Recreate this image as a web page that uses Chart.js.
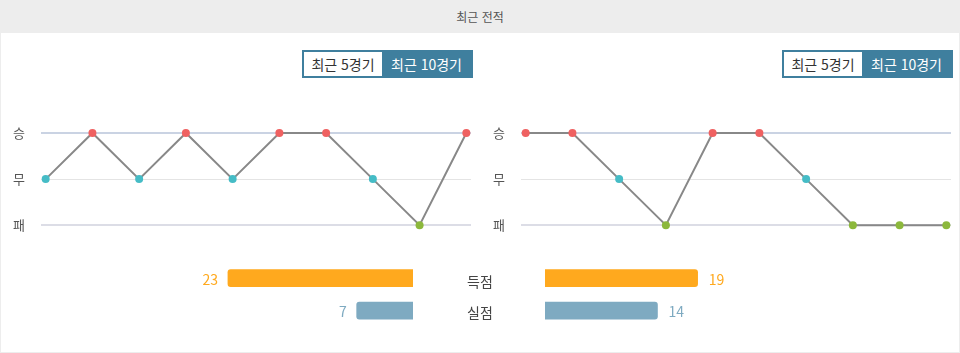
<!DOCTYPE html>
<html lang="ko">
<head>
    <meta charset="UTF-8">
    <title>최근 전적</title>
    <script src="https://cdn.jsdelivr.net/npm/chart.js"></script>
    <style>
        body { margin: 0; width: 960px; height: 353px; background: #ededed; font-family: "Noto Sans CJK KR", "Noto Sans", sans-serif; overflow: hidden; position: relative; }
        .title { position: absolute; left: 0; top: 0; width: 960px; height: 33px; line-height: 33px; text-align: center; font-size: 12px; color: #555; }
        .panel { position: absolute; left: 1px; top: 33px; width: 958px; height: 319px; background: #fff; }
        .tabs { position: absolute; top: 50px; width: 167px; height: 24px; border: 2px solid #3f7f9e; background: #3f7f9e; display: flex; font-size: 14px; }
        .tabs span { line-height: 24px; text-align: center; }
        .tabs .off { width: 78px; background: #fff; color: #333; }
        .tabs .on { flex: 1; color: #fff; }
        .stat { position: absolute; left: 440px; width: 80px; text-align: center; font-size: 14px; color: #444; line-height: 20px; }
        canvas { position: absolute; }
    </style>
</head>
<body>
    <div class="title">최근 전적</div>
    <div class="panel"></div>
    <div class="tabs" id="tabsHome" style="left: 302px;"></div>
    <div class="tabs" id="tabsAway" style="left: 782px;"></div>
    <canvas id="formHome" width="480" height="149" style="left:0; top:100px;"></canvas>
    <canvas id="formAway" width="480" height="149" style="left:480px; top:100px;"></canvas>
    <canvas id="barsHome" width="480" height="90" style="left:0; top:250px;"></canvas>
    <canvas id="barsAway" width="480" height="90" style="left:480px; top:250px;"></canvas>
    <div id="statLabels"></div>

    <script>
        // data
        const resultLabels = ['패', '무', '승'];
        const homeForm = ['무', '승', '무', '승', '무', '승', '승', '무', '패', '승'];
        const awayForm = ['승', '승', '무', '패', '승', '승', '무', '패', '패', '패'];
        const statCategories = ['득점', '실점'];
        const homeStats = [23, 7];
        const awayStats = [19, 14];
        const tabLabels = ['최근 5경기', '최근 10경기'];

        const pointColors = { '승': '#ef6161', '무': '#45bcc6', '패': '#8cb83c' };
        const barColors = ['#ffa91e', '#7eaac1'];
        const fontFamily = '"Noto Sans CJK KR", "Noto Sans", sans-serif';

        ['tabsHome', 'tabsAway'].forEach(id => {
            document.getElementById(id).innerHTML =
                '<span class="off">' + tabLabels[0] + '</span><span class="on">' + tabLabels[1] + '</span>';
        });

        const statTops = [271, 302];
        document.getElementById('statLabels').innerHTML = statCategories
            .map((c, i) => '<div class="stat" style="top:' + statTops[i] + 'px">' + c + '</div>').join('');

        function drawForm(canvasId, form) {
            const ctx = document.getElementById(canvasId).getContext('2d');
            new Chart(ctx, {
                type: 'line',
                data: {
                    datasets: [{
                        data: form.map((r, i) => ({ x: i, y: resultLabels.indexOf(r) })),
                        borderColor: '#888888',
                        borderWidth: 2,
                        tension: 0,
                        pointRadius: 4,
                        pointHoverRadius: 4,
                        pointBorderWidth: 0,
                        pointBackgroundColor: form.map(r => pointColors[r]),
                        clip: false
                    }]
                },
                options: {
                    responsive: false,
                    animation: false,
                    layout: { padding: { top: 33, bottom: 15, right: 9, left: 0 } },
                    plugins: { legend: { display: false }, tooltip: { enabled: false } },
                    scales: {
                        x: { type: 'linear', display: false, min: -0.1, max: form.length - 0.9 },
                        y: {
                            min: 0,
                            max: 2,
                            border: { display: false },
                            grid: {
                                drawTicks: false,
                                color: c => c.tick.value === 2 ? '#cad3e3' : (c.tick.value === 0 ? '#dcdde6' : '#e4e4e4'),
                                lineWidth: c => c.tick.value === 1 ? 1 : 2
                            },
                            ticks: {
                                stepSize: 1,
                                padding: 16,
                                color: '#555',
                                font: { size: 13, family: fontFamily },
                                callback: v => resultLabels[v]
                            },
                            afterFit: scale => { scale.width = 41; }
                        }
                    }
                }
            });
        }

        const valueLabels = {
            id: 'valueLabels',
            afterDatasetsDraw(chart) {
                const ctx = chart.ctx;
                const reversed = chart.options.scales.x.reverse;
                const meta = chart.getDatasetMeta(0);
                ctx.save();
                ctx.font = '14px ' + fontFamily;
                ctx.textBaseline = 'middle';
                meta.data.forEach((bar, i) => {
                    ctx.fillStyle = barColors[i];
                    ctx.textAlign = reversed ? 'right' : 'left';
                    const x = reversed ? bar.x - 10 : bar.x + 11;
                    ctx.fillText(chart.data.datasets[0].data[i], x, bar.y + 1);
                });
                ctx.restore();
            }
        };

        function drawBars(canvasId, values, reversed) {
            const ctx = document.getElementById(canvasId).getContext('2d');
            new Chart(ctx, {
                type: 'bar',
                data: {
                    labels: statCategories,
                    datasets: [{
                        data: values,
                        backgroundColor: barColors,
                        barThickness: 17,
                        borderRadius: 3
                    }]
                },
                options: {
                    indexAxis: 'y',
                    responsive: false,
                    animation: false,
                    layout: {
                        padding: reversed
                            ? { left: 171.6, right: 67, top: 12, bottom: 13.2 }
                            : { left: 65, right: 174, top: 12, bottom: 13.2 }
                    },
                    plugins: { legend: { display: false }, tooltip: { enabled: false } },
                    scales: {
                        x: { display: false, min: 0, max: 30, reverse: reversed },
                        y: { display: false }
                    }
                },
                plugins: [valueLabels]
            });
        }

        drawForm('formHome', homeForm);
        drawForm('formAway', awayForm);
        drawBars('barsHome', homeStats, true);
        drawBars('barsAway', awayStats, false);
    </script>
</body>
</html>
